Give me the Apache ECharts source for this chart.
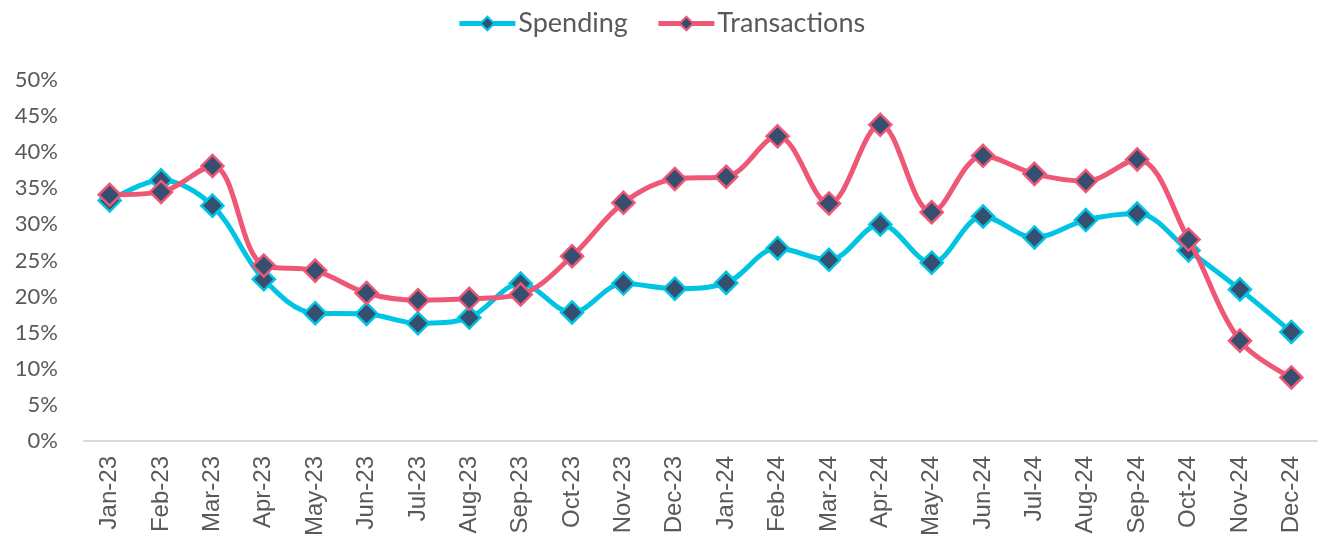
<!DOCTYPE html>
<html>
<head>
<meta charset="utf-8">
<script src="https://cdn.jsdelivr.net/npm/echarts@6/dist/echarts.min.js"></script>
<style>
  html, body { margin: 0; padding: 0; background: #fff; }
  #chart { width: 1322px; height: 545px; }
</style>
</head>
<body>
<div id="chart"></div>
<script>
// 月份
var months = ["Jan-23", "Feb-23", "Mar-23", "Apr-23", "May-23", "Jun-23", "Jul-23", "Aug-23", "Sep-23", "Oct-23", "Nov-23", "Dec-23",
  "Jan-24", "Feb-24", "Mar-24", "Apr-24", "May-24", "Jun-24", "Jul-24", "Aug-24", "Sep-24", "Oct-24", "Nov-24", "Dec-24"];
// 两条线的数据 (%)
var spending = [33.3, 36.1, 32.6, 22.4, 17.7, 17.6, 16.3, 17.1, 21.8, 17.8, 21.8, 21.1,
  21.9, 26.7, 25.1, 30.0, 24.7, 31.1, 28.2, 30.6, 31.5, 26.4, 21.0, 15.1];
var transactions = [34.1, 34.5, 38.1, 24.3, 23.6, 20.5, 19.5, 19.7, 20.3, 25.6, 33.0, 36.3,
  36.6, 42.2, 32.9, 43.8, 31.7, 39.5, 37.0, 36.0, 39.0, 27.9, 13.9, 8.8];

(function () {
  var myChart = echarts.init(document.getElementById('chart'));
  var font = "Lato, 'Open Sans', sans-serif";
  var option = {
    color: ["#00c4e3", "#ee5775"],
    legend: {
      top: 5,
      left: 'center',
      itemWidth: 56,
      itemHeight: 17,
      itemGap: 28,
      lineStyle: { width: 5 },
      textStyle: {
        color: '#595959',
        fontSize: 27,
        fontFamily: font,
        padding: [0, 0, 0, -2]
      },
      data: ['Spending', 'Transactions']
    },
    grid: {
      left: 84,
      right: 5,
      top: 80,
      bottom: 104
    },
    xAxis: [{
      type: 'category',
      data: months,
      axisLine: {
        lineStyle: { color: '#d9d9d9', width: 2 }
      },
      axisTick: {
        length: 7,
        lineStyle: { color: '#d9d9d9', width: 2 }
      },
      axisLabel: {
        rotate: 90,
        margin: 15,
        color: '#595959',
        fontSize: 24,
        fontFamily: "'Liberation Sans', Arial, sans-serif",
        interval: 0
      }
    }],
    yAxis: [{
      type: 'value',
      min: 0,
      max: 50,
      interval: 5,
      axisLine: { show: false },
      axisTick: { show: false },
      splitLine: { show: false },
      axisLabel: {
        formatter: '{value}%',
        margin: 26,
        color: '#595959',
        fontSize: 22,
        fontFamily: font
      }
    }],
    series: [{
      name: 'Spending',
      type: 'line',
      data: spending,
      smooth: 0.35,
      symbol: 'diamond',
      symbolSize: 22,
      lineStyle: { width: 5, color: '#00c4e3' },
      itemStyle: {
        color: '#364f70',
        borderColor: '#00c4e3',
        borderWidth: 2.5
      },
      z: 2
    }, {
      name: 'Transactions',
      type: 'line',
      data: transactions,
      smooth: 0.35,
      symbol: 'diamond',
      symbolSize: 22,
      lineStyle: { width: 5, color: '#ee5775' },
      itemStyle: {
        color: '#364f70',
        borderColor: '#ee5775',
        borderWidth: 2.5
      },
      z: 3
    }]
  };
  myChart.setOption(option);
  window.addEventListener("resize", function () {
    myChart.resize();
  });
})();
</script>
</body>
</html>
